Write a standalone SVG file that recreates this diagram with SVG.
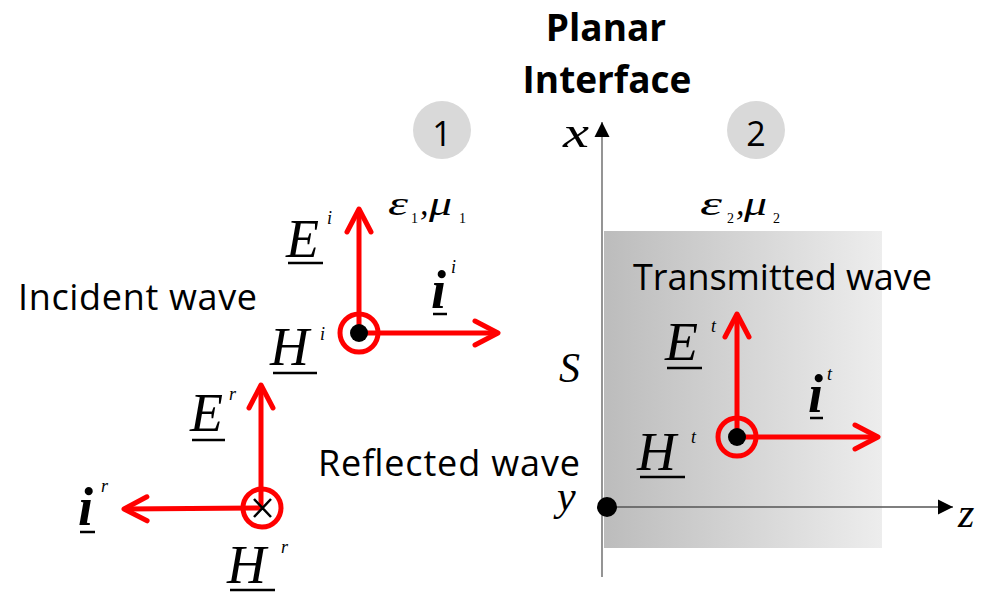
<svg xmlns="http://www.w3.org/2000/svg" width="988" height="592" viewBox="0 0 988 592">
<style>
.lbl{font-family:"Open Sans","Liberation Sans",sans-serif;font-size:36px;fill:#000}
.ttl{font-family:"Open Sans","Liberation Sans",sans-serif;font-size:37px;font-weight:bold;fill:#000;text-anchor:middle}
.num{font-family:"Open Sans","Liberation Sans",sans-serif;font-size:34px;fill:#000;text-anchor:middle}
.m{font-family:"Liberation Serif","Times New Roman",serif;font-style:italic;fill:#000}
.big{font-size:54px}
.bi{font-size:54px;font-weight:bold}
.sup{font-size:18px}
.gr{font-size:34px}
.sub{font-family:"Liberation Serif","Times New Roman",serif;font-size:14px;fill:#000}
.ul{stroke:#000;stroke-width:2.5}
.red{stroke:#ff0000;stroke-width:5;fill:none}
.ring{stroke:#ff0000;stroke-width:5;fill:none}
.axis{stroke:#7a7a7a;stroke-width:1.6;fill:none}
.reg{fill:#d9d9d9}
</style>
<defs>
<linearGradient id="g" x1="0" y1="0" x2="1" y2="0">
<stop offset="0" stop-color="#bcbcbc"/>
<stop offset="1" stop-color="#ededed"/>
</linearGradient>
<marker id="ra" markerUnits="userSpaceOnUse" viewBox="-30 -20 36 40" markerWidth="36" markerHeight="40" refX="0" refY="0" orient="auto">
<path d="M-23,-12 L0,0 L-23,12" fill="none" stroke="#ff0000" stroke-width="5" stroke-linecap="round" stroke-linejoin="round"/>
</marker>
<marker id="ka" markerUnits="userSpaceOnUse" viewBox="-16 -9 18 18" markerWidth="18" markerHeight="18" refX="0" refY="0" orient="auto">
<path d="M-15,-7.5 L0,0 L-15,7.5 Z" fill="#000"/>
</marker>
</defs>

<g id="medium2">
<rect x="604" y="231" width="278" height="317" fill="url(#g)"/>
</g>

<g id="title">
<text class="ttl" x="606" y="41">Planar</text>
<text class="ttl" x="607" y="93">Interface</text>
</g>

<g id="region1">
<circle class="reg" cx="442" cy="130" r="29"/>
<text class="num" x="442" y="146">1</text>
</g>
<g id="region2">
<circle class="reg" cx="756" cy="130" r="29"/>
<text class="num" x="756" y="146">2</text>
</g>

<g id="params">
<text class="m gr" x="388" y="215" textLength="20" lengthAdjust="spacingAndGlyphs">ε</text>
<text class="sub" x="411" y="223">1</text>
<text class="m gr" x="420" y="215" font-style="normal">,</text>
<text class="m gr" x="429" y="215" textLength="23" lengthAdjust="spacingAndGlyphs">μ</text>
<text class="sub" x="459" y="223">1</text>
<text class="m gr" x="700" y="215" textLength="22" lengthAdjust="spacingAndGlyphs">ε</text>
<text class="sub" x="727" y="223">2</text>
<text class="m gr" x="736" y="215" font-style="normal">,</text>
<text class="m gr" x="744" y="215" textLength="23" lengthAdjust="spacingAndGlyphs">μ</text>
<text class="sub" x="773" y="223">2</text>
</g>

<g id="axes">
<line class="axis" x1="602" y1="577" x2="602" y2="122" marker-end="url(#ka)"/>
<line x1="603" y1="507" x2="953" y2="507" stroke="#555" stroke-width="1.6" marker-end="url(#ka)"/>
<circle cx="607" cy="507" r="10" fill="#000"/>
<text class="m" x="563" y="147" font-size="44" textLength="26" lengthAdjust="spacingAndGlyphs">x</text>
<text class="m" x="557" y="510" font-size="42">y</text>
<text class="m" x="958" y="527" font-size="42">z</text>
<text class="m" x="559" y="382" font-size="42">S</text>
</g>

<g id="wave-labels">
<text class="lbl" x="18" y="310" textLength="239">Incident wave</text>
<text class="lbl" x="318" y="476" textLength="262">Reflected wave</text>
<text class="lbl" x="633" y="290" textLength="299">Transmitted wave</text>
</g>

<g id="connectors">
<line class="red" x1="359" y1="333" x2="359" y2="209" marker-end="url(#ra)"/>
<line class="red" x1="359" y1="333" x2="498" y2="333" marker-end="url(#ra)"/>
<line class="red" x1="261" y1="508" x2="261" y2="385" marker-end="url(#ra)"/>
<line class="red" x1="261" y1="508" x2="124" y2="509" marker-end="url(#ra)"/>
<line class="red" x1="737" y1="437" x2="737" y2="314" marker-end="url(#ra)"/>
<line class="red" x1="737" y1="437" x2="878" y2="437" marker-end="url(#ra)"/>
</g>

<g id="incident">
<circle class="ring" cx="359" cy="333" r="19"/>
<circle cx="359" cy="333" r="9" fill="#000"/>
<text class="m big" x="286" y="257">E</text>
<line class="ul" x1="288" y1="263" x2="323" y2="263"/>
<text class="m sup" x="327" y="224">i</text>
<text class="m big" x="270" y="365">H</text>
<line class="ul" x1="273" y1="373" x2="317" y2="373"/>
<text class="m sup" x="320" y="340">i</text>
<text class="m bi" x="431" y="308">i</text>
<line class="ul" x1="433" y1="314" x2="447" y2="314"/>
<text class="m sup" x="451" y="273">i</text>
</g>

<g id="reflected">
<circle class="ring" cx="262" cy="508" r="19"/>
<path d="M254,499 L271,517 M271,499 L254,517" stroke="#000" stroke-width="2.5"/>
<text class="m big" x="190" y="431">E</text>
<line class="ul" x1="192" y1="440" x2="225" y2="440"/>
<text class="m sup" x="229" y="400">r</text>
<text class="m bi" x="78" y="525">i</text>
<line class="ul" x1="80" y1="532" x2="95" y2="532"/>
<text class="m sup" x="101" y="492">r</text>
<text class="m big" x="227" y="583">H</text>
<line class="ul" x1="230" y1="590" x2="275" y2="590"/>
<text class="m sup" x="281" y="553">r</text>
</g>

<g id="transmitted">
<circle class="ring" cx="737" cy="437" r="19"/>
<circle cx="737" cy="437" r="9" fill="#000"/>
<text class="m big" x="665" y="360">E</text>
<line class="ul" x1="667" y1="368" x2="702" y2="368"/>
<text class="m sup" x="711" y="332">t</text>
<text class="m bi" x="808" y="412">i</text>
<line class="ul" x1="810" y1="418" x2="823" y2="418"/>
<text class="m sup" x="827" y="380">t</text>
<text class="m big" x="637" y="470">H</text>
<line class="ul" x1="640" y1="477" x2="685" y2="477"/>
<text class="m sup" x="691" y="443">t</text>
</g>
</svg>
